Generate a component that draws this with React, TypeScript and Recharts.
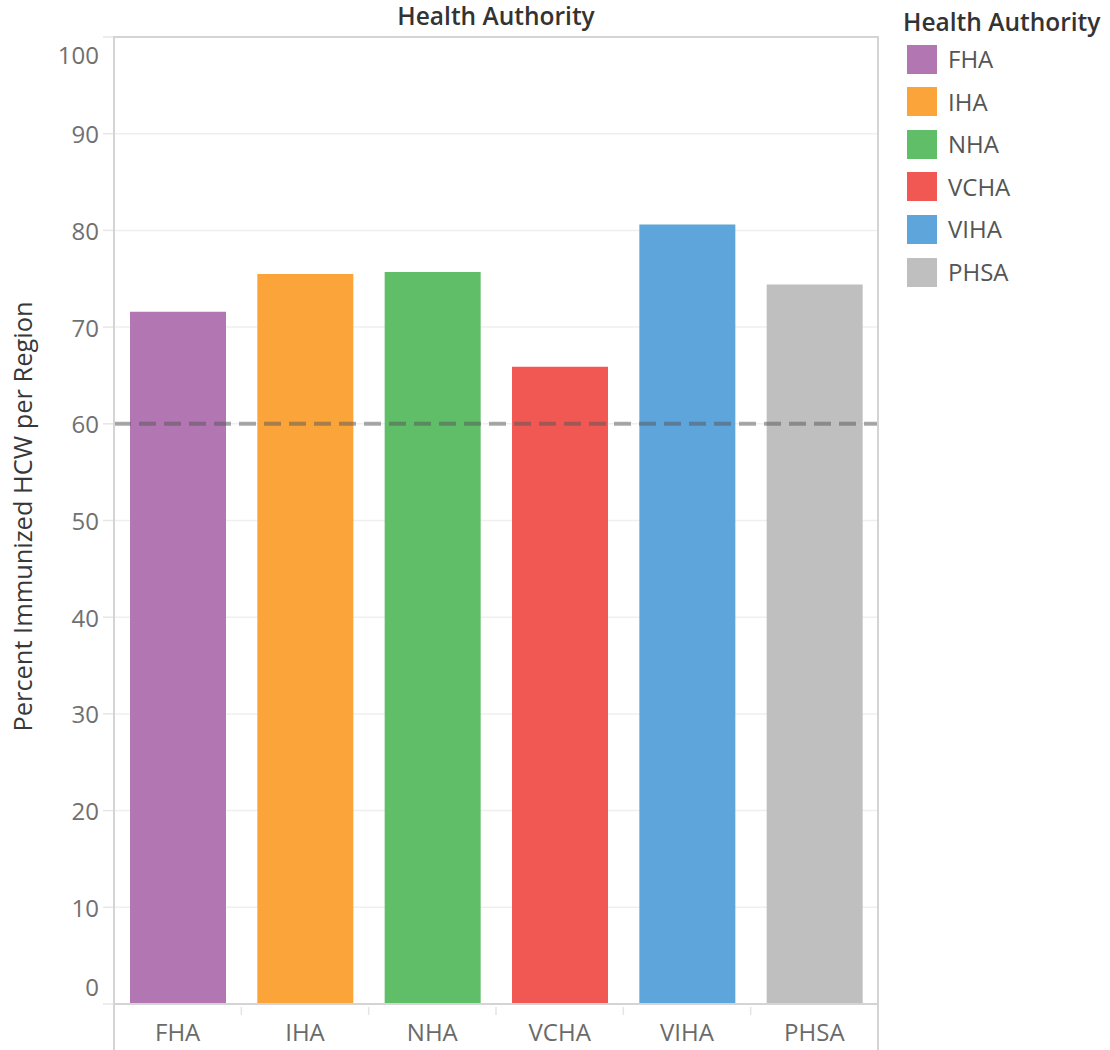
import React from "react";
import {
  BarChart,
  Bar,
  Cell,
  XAxis,
  YAxis,
  CartesianGrid,
  ReferenceLine,
  Legend,
} from "recharts";

const authorities = ["FHA", "IHA", "NHA", "VCHA", "VIHA", "PHSA"];
const percentImmunized = [71.6, 75.5, 75.7, 65.9, 80.6, 74.4];
const barColors = ["#b276b2", "#faa43a", "#60bd68", "#f15854", "#5da5da", "#bfbfbf"];
const yTicks = [0, 10, 20, 30, 40, 50, 60, 70, 80, 90, 100];
const target = 60;

const data = authorities.map((name, i) => ({ name, value: percentImmunized[i] }));

const FONT = "'Open Sans', sans-serif";
const PLOT_LEFT = 114;
const PLOT_RIGHT = 878;
const PLOT_TOP = 37;
const HALF_BAND = (PLOT_RIGHT - PLOT_LEFT) / authorities.length / 2;

const YTick = ({ x, y, payload }: any) => {
  // Tableau pulls the end labels inside the plot
  let shift = 0;
  if (payload.value === 100) shift = 17;
  if (payload.value === 0) shift = -18;
  return (
    <text
      x={x}
      y={y + shift}
      textAnchor="end"
      dominantBaseline="central"
      fill="#707070"
      fontSize={24}
      fontFamily={FONT}
    >
      {payload.value}
    </text>
  );
};

const XTick = ({ x, y, payload, index }: any) => (
  <g>
    {index > 0 && (
      <line x1={x - HALF_BAND} x2={x - HALF_BAND} y1={y + 3} y2={y + 11} stroke="#e4e4e4" strokeWidth={1.5} />
    )}
    <text
      x={x}
      y={y + 27}
      textAnchor="middle"
      dominantBaseline="central"
      fill="#6a6a6a"
      fontSize={24}
      fontFamily={FONT}
    >
      {payload.value}
    </text>
  </g>
);

const YLabel = ({ viewBox }: any) => {
  const cx = viewBox.x + 22;
  const cy = viewBox.y + viewBox.height / 2 - 4;
  return (
    <text
      x={cx}
      y={cy}
      transform={`rotate(-90 ${cx} ${cy})`}
      textAnchor="middle"
      dominantBaseline="central"
      fill="#383838"
      fontSize={25.4}
      fontWeight={500}
      fontFamily={FONT}
    >
      Percent Immunized HCW per Region
    </text>
  );
};

const LegendBox = () => (
  <div style={{ position: "relative", width: 207, height: 300, fontFamily: FONT }}>
    <div
      style={{
        position: "absolute",
        left: 0,
        top: 6,
        fontSize: 24.5,
        fontWeight: 600,
        color: "#333",
        lineHeight: "32px",
        whiteSpace: "nowrap",
      }}
    >
      Health Authority
    </div>
    {authorities.map((name, i) => (
      <div
        key={name}
        style={{ position: "absolute", left: 4, top: 59 + i * 42.6 - 15, height: 30, display: "flex", alignItems: "center" }}
      >
        <div style={{ width: 30, height: 29, background: barColors[i] }} />
        <span style={{ marginLeft: 11, fontSize: 24, color: "#555", lineHeight: "30px" }}>{name}</span>
      </div>
    ))}
  </div>
);

export default function App() {
  return (
    <div style={{ position: "absolute", left: 0, top: 0, width: 1110, height: 1050, background: "#fff", fontFamily: FONT }}>
      <div
        style={{
          position: "absolute",
          left: PLOT_LEFT,
          width: PLOT_RIGHT - PLOT_LEFT,
          top: 1,
          textAlign: "center",
          fontSize: 24.5,
          fontWeight: 600,
          color: "#333",
          lineHeight: "30px",
        }}
      >
        Health Authority
      </div>
      <BarChart
        width={1110}
        height={1050}
        data={data}
        margin={{ top: PLOT_TOP, right: 1110 - PLOT_RIGHT, bottom: 0, left: 0 }}
      >
        <CartesianGrid vertical={false} stroke="#efefef" strokeWidth={1.5} />
        <XAxis
          dataKey="name"
          height={46}
          axisLine={{ stroke: "#d4d4d4", strokeWidth: 2 }}
          tickLine={false}
          tickSize={0}
          tickMargin={0}
          tick={<XTick />}
          interval={0}
        />
        <YAxis
          width={PLOT_LEFT}
          domain={[0, 100]}
          ticks={yTicks}
          axisLine={false}
          tickLine={{ stroke: "#e6e6e6", strokeWidth: 1.5 }}
          tickSize={11}
          tickMargin={4}
          tick={<YTick />}
          label={<YLabel />}
        />
        <Bar dataKey="value" barSize={96} isAnimationActive={false}>
          {data.map((d, i) => (
            <Cell key={d.name} fill={barColors[i]} />
          ))}
        </Bar>
        <ReferenceLine
          y={target}
          stroke="#555"
          strokeOpacity={0.5}
          strokeWidth={4}
          strokeDasharray="17 8"
        />
        <Legend
          layout="horizontal"
          verticalAlign="middle"
          content={<LegendBox />}
          wrapperStyle={{ left: 903, top: 0, width: 207, height: 300 }}
        />
      </BarChart>
      <div
        style={{
          position: "absolute",
          left: PLOT_LEFT - 1,
          top: PLOT_TOP - 1,
          width: PLOT_RIGHT - PLOT_LEFT + 2,
          height: 1050 - PLOT_TOP + 1,
          boxSizing: "border-box",
          borderTop: "2px solid #d4d4d4",
          borderLeft: "2px solid #d4d4d4",
          borderRight: "2px solid #d4d4d4",
          pointerEvents: "none",
        }}
      />
    </div>
  );
}
